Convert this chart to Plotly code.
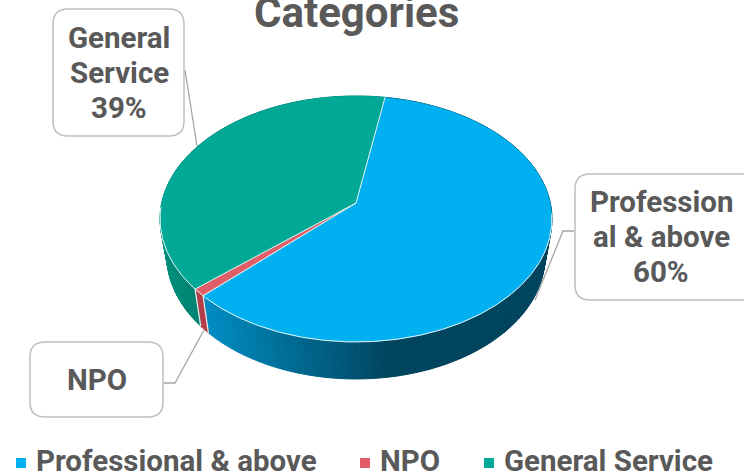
"""3D style pie chart of staff categories, drawn in pixel coordinates."""

import numpy as np
import plotly.graph_objects as go

CATEGORIES = ["Professional & above", "NPO", "General Service"]
VALUES = [60, 1, 39]
LABEL_LINES = [["Profession", "al & above", "60%"], ["NPO"], ["General", "Service", "39%"]]
TITLE = "Categories"

FACE_COLORS = ["#00b0f0", "#e15d67", "#02a896"]
TEXT_COLOR = "#595959"
BOX_COLOR = "#bfbfbf"
EDGE_COLOR = "#e8f4f6"
FONT = "Roboto"

# projection of the flat disc onto the picture
CX, CY = 356, 203
A, B, K = 194.3, 120.9, 0.13
DEPTH = 37
LOWER_SCALE = 0.965
START_ANGLE = 9.7


def rim(angles, drop=0, scale=1.0):
    t = np.radians(angles)
    u, v = np.sin(t), np.cos(t)
    s = 1 + K * v
    return CX + scale * A * u / s, CY - B * v / s + drop


def mix(c0, c1, f):
    f = min(max(f, 0), 1)
    rgb = [round(a + (b - a) * f) for a, b in zip(c0, c1)]
    return f"rgb({rgb[0]},{rgb[1]},{rgb[2]})"


def wall_color(i, x):
    if i == 0:
        return mix((0, 140, 194), (0, 68, 94), (x - 205) / 185)
    if i == 1:
        return "rgb(178,62,72)"
    return mix((0, 142, 124), (0, 126, 110), (x - 160) / 45)


def rounded_box(x0, y0, x1, y1, r=15):
    return (f"M{x0+r},{y0} L{x1-r},{y0} Q{x1},{y0} {x1},{y0+r} L{x1},{y1-r} Q{x1},{y1} {x1-r},{y1} "
            f"L{x0+r},{y1} Q{x0},{y1} {x0},{y1-r} L{x0},{y0+r} Q{x0},{y0} {x0+r},{y0} Z")


fractions = np.array(VALUES) / sum(VALUES)
edges = START_ANGLE + 360 * np.concatenate([[0], np.cumsum(fractions)])

fig = go.Figure()

# side wall, cut into thin strips for the shading
for i in range(len(VALUES)):
    steps = np.arange(edges[i], edges[i + 1], 1.5)
    steps = np.append(steps, edges[i + 1])
    for a0, a1 in zip(steps[:-1], steps[1:]):
        x_top, y_top = rim(np.array([a0, a1]))
        x_low, y_low = rim(np.array([a1, a0]), DEPTH, LOWER_SCALE)
        color = wall_color(i, (x_top[0] + x_top[1]) / 2)
        fig.add_trace(go.Scatter(
            x=list(x_top) + list(x_low) + [x_top[0]],
            y=list(y_top) + list(y_low) + [y_top[0]],
            mode="lines", fill="toself", fillcolor=color,
            line=dict(color=color, width=1), hoverinfo="skip",
        ))

# white seams on the wall where the slices meet
for edge in edges[1:3]:
    x_top, y_top = rim(np.array([edge]))
    x_low, y_low = rim(np.array([edge]), DEPTH, LOWER_SCALE)
    fig.add_trace(go.Scatter(
        x=[x_top[0], x_low[0]], y=[y_top[0], y_low[0]], mode="lines",
        line=dict(color="#e8f0f2", width=1.2), hoverinfo="skip",
    ))

# top faces
for i in range(len(VALUES)):
    x_arc, y_arc = rim(np.linspace(edges[i], edges[i + 1], 240))
    fig.add_trace(go.Scatter(
        x=[CX] + list(x_arc) + [CX], y=[CY] + list(y_arc) + [CY],
        mode="lines", fill="toself", fillcolor=FACE_COLORS[i],
        line=dict(color=FACE_COLORS[i], width=0.5), hoverinfo="skip",
    ))

# pale edges: the radial cuts and the near half of the rim
for edge in edges[:3]:
    x_top, y_top = rim(np.array([edge]))
    fig.add_trace(go.Scatter(
        x=[CX, x_top[0]], y=[CY, y_top[0]], mode="lines",
        line=dict(color=EDGE_COLOR, width=1), hoverinfo="skip",
    ))
x_front, y_front = rim(np.linspace(95, 268, 300))
fig.add_trace(go.Scatter(x=x_front, y=y_front, mode="lines",
                         line=dict(color=EDGE_COLOR, width=1), hoverinfo="skip"))

# leader lines
for xs, ys in [
    ([574, 563, 535], [231, 231, 300]),
    ([164, 175, 204], [383, 383, 330]),
    ([185, 197], [70, 146]),
]:
    fig.add_trace(go.Scatter(x=xs, y=ys, mode="lines",
                             line=dict(color="#a6a6a6", width=1.3), hoverinfo="skip"))

# data labels, one annotation per line to hold the tight line spacing
for lines, (x0, y0, x1, y1), xc in zip(LABEL_LINES, [
    (575, 174, 760, 300),
    (30, 342, 163, 417),
    (53, 9, 184, 136),
], [661, 97, 119]):
    fig.add_shape(type="path", path=rounded_box(x0, y0, x1, y1),
                  line=dict(color=BOX_COLOR, width=1.5), fillcolor="white")
    mid = (y0 + y1) / 2
    for n, line in enumerate(lines):
        fig.add_annotation(x=xc, y=mid + (n - (len(lines) - 1) / 2) * 35, text=f"<b>{line}</b>",
                           showarrow=False, font=dict(family=FONT, size=29.5, color=TEXT_COLOR),
                           xanchor="center", yanchor="middle")

fig.add_annotation(x=356, y=12, text=f"<b>{TITLE}</b>", showarrow=False,
                   font=dict(family=FONT, size=42, color=TEXT_COLOR),
                   xanchor="center", yanchor="middle")

# legend
for name, color, x_key in zip(CATEGORIES, FACE_COLORS, [21, 365, 489]):
    fig.add_trace(go.Scatter(x=[x_key], y=[463], mode="markers", hoverinfo="skip",
                             marker=dict(symbol="square", size=10, color=color)))
    fig.add_annotation(x=x_key + 12.5, y=461, text=f"<b>{name}</b>", showarrow=False,
                       font=dict(family=FONT, size=29.5, color=TEXT_COLOR),
                       xanchor="left", yanchor="middle")

fig.update_layout(
    width=744, height=473,
    margin=dict(l=0, r=0, t=0, b=0),
    paper_bgcolor="white", plot_bgcolor="white",
    showlegend=False,
    xaxis=dict(range=[0, 744], visible=False, fixedrange=True),
    yaxis=dict(range=[473, 0], visible=False, fixedrange=True),
)
fig.write_html("out.html", config={"displayModeBar": False},
               post_script="document.body.style.margin='0';document.body.style.overflow='hidden';")
